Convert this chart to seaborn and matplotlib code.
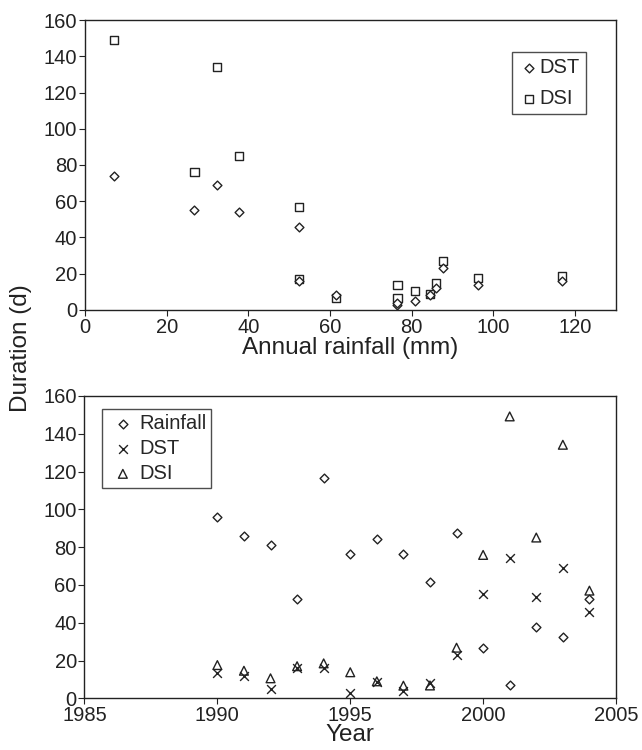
import pandas as pd
import matplotlib
matplotlib.use("Agg")
import matplotlib.pyplot as plt
import seaborn as sns

sns.set_theme(style="white")
plt.rcParams['font.family'] = ['Liberation Sans', 'DejaVu Sans']
plt.rcParams.update({'font.size': 14.5, 'axes.linewidth': 1.0,
                     'axes.edgecolor': '#222222',
                     'xtick.bottom': True, 'ytick.left': True,
                     'xtick.direction': 'out', 'ytick.direction': 'out',
                     'xtick.major.size': 4, 'ytick.major.size': 4,
                     'xtick.color': '#222222', 'ytick.color': '#222222',
                     'xtick.labelsize': 14.5, 'ytick.labelsize': 14.5})

# Data (one value per year)
years = [1990, 1991, 1992, 1993, 1994, 1995, 1996, 1997,
         1998, 1999, 2000, 2001, 2002, 2003, 2004]
rainfall = [96.2, 86.0, 80.9, 52.5, 116.8, 76.5, 84.4, 76.5,
            61.4, 87.6, 26.8, 7.2, 37.6, 32.3, 52.4]
dst = [13.6, 12.0, 4.8, 15.9, 16.2, 3.0, 8.5, 3.7,
       8.0, 22.9, 55.1, 74.2, 53.8, 69.2, 45.9]
dsi = [17.6, 14.6, 10.6, 17.0, 18.5, 13.8, 9.0, 6.7,
       6.8, 26.8, 75.9, 149.2, 85.1, 134.2, 57.0]

df = pd.DataFrame({'Year': years, 'Rainfall': rainfall, 'DST': dst, 'DSI': dsi})

ink = '#222222'
fig = plt.figure(figsize=(6.42, 7.5), dpi=100)
ax1 = fig.add_axes([0.1324, 0.5867, 0.8271, 0.3866])
ax2 = fig.add_axes([0.1316, 0.0689, 0.8279, 0.4031])

# --- Top: duration vs annual rainfall ---
sns.scatterplot(data=df, x='Rainfall', y='DST', ax=ax1, marker='D', s=20,
                facecolor='white', edgecolor=ink, linewidth=1.0, label='DST', zorder=3)
sns.scatterplot(data=df, x='Rainfall', y='DSI', ax=ax1, marker='s', s=34,
                facecolor='none', edgecolor=ink, linewidth=1.0, label='DSI', zorder=2)
ax1.set_xlim(0, 130)
ax1.set_ylim(0, 160)
ax1.set_xticks(range(0, 121, 20))
ax1.set_yticks(range(0, 161, 20))
ax1.set_xlabel('Annual rainfall (mm)', fontsize=17.5, labelpad=0, color=ink)
ax1.set_ylabel('')
leg1 = ax1.legend(loc='upper right', bbox_to_anchor=(0.9435, 0.89), frameon=True,
                  fancybox=False, edgecolor=ink, fontsize=14.5, handletextpad=0.0,
                  borderpad=0.3, labelspacing=0.6, handlelength=1.1, borderaxespad=0)
leg1.get_frame().set_linewidth(1.0)

# --- Bottom: time series ---
sns.scatterplot(data=df, x='Year', y='Rainfall', ax=ax2, marker='D', s=20,
                facecolor='white', edgecolor=ink, linewidth=1.0, label='Rainfall', zorder=3)
sns.scatterplot(data=df, x='Year', y='DST', ax=ax2, marker='x', s=40,
                color=ink, linewidth=1.0, label='DST', zorder=3)
sns.scatterplot(data=df, x='Year', y='DSI', ax=ax2, marker='^', s=40,
                facecolor='none', edgecolor=ink, linewidth=1.0, label='DSI', zorder=2)
ax2.set_xlim(1985, 2005)
ax2.set_ylim(0, 160)
ax2.set_xticks(range(1985, 2006, 5))
ax2.set_yticks(range(0, 161, 20))
ax2.set_xlabel('Year', fontsize=17.5, labelpad=-1, color=ink)
ax2.set_ylabel('')
leg2 = ax2.legend(loc='upper left', bbox_to_anchor=(0.0324, 0.957), frameon=True,
                  fancybox=False, edgecolor=ink, fontsize=14.5, handletextpad=0.0,
                  borderpad=0.25, labelspacing=0.3, handlelength=1.6, borderaxespad=0)
leg2.get_frame().set_linewidth(1.0)

for ax in (ax1, ax2):
    ax.grid(False)
    ax.tick_params(axis='both', pad=1.5, width=0.8)

fig.text(0.033, 0.536, 'Duration (d)', rotation=90, ha='center', va='center',
         fontsize=17.5, color=ink)

fig.savefig('out.png', dpi=100, facecolor='white')
